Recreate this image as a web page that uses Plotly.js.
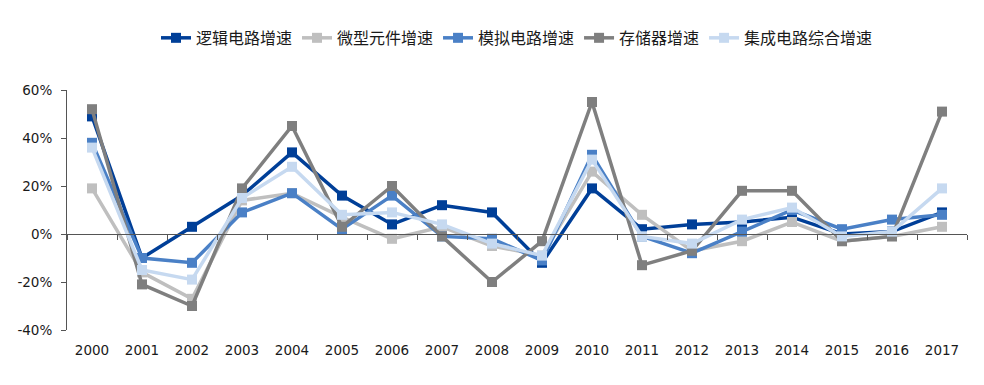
<!DOCTYPE html>
<html>
<head>
<meta charset="utf-8">
<script src="https://cdn.plot.ly/plotly-3.0.1.min.js"></script>
<style>html,body{margin:0;padding:0;background:#fff;}#chart{width:984px;height:385px;}</style>
</head>
<body>
<div id="chart"></div>
<script>
const years = ["2000","2001","2002","2003","2004","2005","2006","2007","2008","2009","2010","2011","2012","2013","2014","2015","2016","2017"];
const seriesNames = ["逻辑电路增速","微型元件增速","模拟电路增速","存储器增速","集成电路综合增速"];
const logic  = [49, -10,   3, 16, 34, 16,  4, 12,   9, -12, 19,   2,  4,  5,  7,  0,  1,  9];
const micro  = [19, -16, -27, 14, 17,  7, -2,  3,  -5,  -9, 26,   8, -7, -3,  5, -3, -1,  3];
const analog = [38, -10, -12,  9, 17,  2, 16, -1,  -2, -11, 33,  -1, -8,  1, 10,  2,  6,  8];
const memory = [52, -21, -30, 19, 45,  3, 20, -1, -20,  -3, 55, -13, -7, 18, 18, -3, -1, 51];
const ic     = [36, -15, -19, 15, 28,  8,  9,  4,  -4,  -9, 31,  -1, -4,  6, 11, -1,  1, 19];
const yTicks = [-40, -20, 0, 20, 40, 60];
const yTickText = ["-40%","-20%","0%","20%","40%","60%"];

const colors = ["#003f98", "#bfbfbf", "#4a80c6", "#7f7f7f", "#c6d9f0"];
const data = [logic, micro, analog, memory, ic];

const traces = data.map((vals, i) => ({
  type: "scatter",
  mode: "lines+markers",
  name: seriesNames[i],
  x: years,
  y: vals,
  line: {color: colors[i], width: 3.5},
  marker: {color: colors[i], symbol: "square", size: 10},
  hoverinfo: "x+y"
}));
// invisible helper trace on the axis carrying the zero-line category ticks
traces.push({
  type: "scatter", mode: "lines", x: years, y: logic, xaxis: "x2", yaxis: "y",
  line: {width: 0, color: "rgba(0,0,0,0)"}, showlegend: false, hoverinfo: "skip"
});

const tickFont = {family: "DejaVu Sans, Verdana, sans-serif", size: 13.5, color: "#1a1a1a"};
const layout = {
  width: 984, height: 385,
  margin: {l: 67, r: 17, t: 90, b: 55},
  paper_bgcolor: "#fff", plot_bgcolor: "#fff",
  showlegend: true,
  legend: {
    orientation: "h", x: 0.5, xanchor: "center", y: 1.217, yanchor: "middle",
    font: {family: "Noto Sans CJK SC, sans-serif", size: 16, color: "#1a1a1a"},
    traceorder: "normal"
  },
  xaxis: {
    type: "category", categoryorder: "array", categoryarray: years,
    range: [-0.5, 17.5], showgrid: false, showline: false, zeroline: false,
    ticks: "", tickfont: tickFont, ticklabelstandoff: 10, fixedrange: true
  },
  xaxis2: {
    type: "category", categoryorder: "array", categoryarray: years,
    overlaying: "x", anchor: "free", position: 0.4,
    range: [-0.5, 17.5], showgrid: false, showline: true, linecolor: "#555", linewidth: 1,
    ticks: "outside", tickson: "boundaries", ticklen: 5, tickcolor: "#555",
    showticklabels: false, zeroline: false, fixedrange: true
  },
  yaxis: {
    range: [-40, 60], tickvals: yTicks, ticktext: yTickText,
    showgrid: false, zeroline: false, showline: true, linecolor: "#555", linewidth: 1,
    ticks: "outside", ticklen: 5, tickcolor: "#555", tickfont: tickFont,
    ticklabelstandoff: 6, fixedrange: true
  }
};
Plotly.newPlot("chart", traces, layout, {displayModeBar: false, staticPlot: true});
</script>
</body>
</html>
